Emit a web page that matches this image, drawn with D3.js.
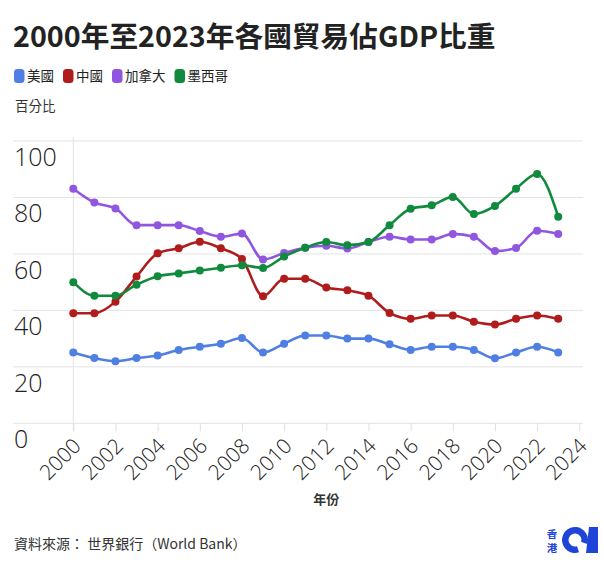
<!DOCTYPE html>
<html><head><meta charset="utf-8">
<script src="https://cdn.jsdelivr.net/npm/d3@7"></script>
<style>
body{margin:0;background:#fff;}
text{font-family:"Open Sans","Noto Sans CJK TC",sans-serif;}
.cjk{font-family:"Noto Sans CJK TC","Noto Sans",sans-serif;}
</style></head>
<body><svg id="c" width="604" height="566"></svg>
<script>
const years = d3.range(2000, 2024);
const seriesNames = ["美國","中國","加拿大","墨西哥"];
const colors = ["#4f7fe3","#b01c1c","#9056e0","#108a3c"];
const usa = [25.1,23.1,22.0,23.1,24.0,26.0,27.1,28.2,30.2,25.1,28.2,31.1,31.1,30.0,30.0,28.0,26.0,27.1,27.1,26.0,23.0,25.1,27.1,25.1];
const china = [39.0,39.0,43.1,52.0,60.2,62.0,64.3,62.0,58.2,45.0,51.2,51.2,48.1,47.1,45.2,39.1,37.0,38.2,38.2,36.0,35.0,37.0,38.2,37.0];
const canada = [83.1,78.2,76.1,70.2,70.2,70.2,68.1,66.1,67.2,58.0,60.3,62.2,62.9,61.9,64.2,66.1,65.1,65.1,67.1,66.1,61.0,62.1,68.2,67.1];
const mexico = [50.0,45.2,45.2,49.1,52.1,53.1,54.1,55.1,56.0,55.0,59.1,62.2,64.2,63.1,64.2,70.2,76.0,77.2,80.2,74.1,77.0,83.1,88.3,73.2];
const yTicks = [0,20,40,60,80,100];
const xTicks = d3.range(2000, 2025, 2);
const seriesValues = [usa, china, canada, mexico];

const svg = d3.select("#c");
const x = d3.scaleLinear().domain([2000, 2024]).range([73.3, 579.3]);
const y = d3.scaleLinear().domain([0, 100]).range([423.3, 141.0]);

// title
svg.append("text").attr("class","cjk").attr("x",13).attr("y",47)
  .attr("font-size",28.7).attr("font-weight",700).attr("fill","#222")
  .text("2000年至2023年各國貿易佔GDP比重");

// legend
const lg = svg.append("g").attr("class","legend");
let lx = 14;
seriesNames.forEach((n,i)=>{
  lg.append("rect").attr("x",lx).attr("y",69).attr("width",10.5).attr("height",14).attr("rx",3.5).attr("fill",colors[i]);
  const t = lg.append("text").attr("class","cjk").attr("x",lx+13).attr("y",81).attr("font-size",13.5).attr("fill","#222").text(n);
  lx += 13 + t.node().getComputedTextLength() + 9;
});

svg.append("text").attr("class","cjk").attr("x",15).attr("y",111).attr("font-size",13.5).attr("fill","#333").text("百分比");

// grid
const grid = svg.append("g");
yTicks.forEach(v=>{
  grid.append("line").attr("x1",13).attr("x2",583).attr("y1",y(v)).attr("y2",y(v)).attr("stroke","#e3e3e3").attr("stroke-width",1);
  grid.append("text").attr("x",14).attr("y",y(v)+25).attr("font-size",25).attr("font-weight",300).attr("fill","#222").text(v);
});
grid.append("line").attr("x1",x(2000)).attr("x2",x(2000)).attr("y1",137).attr("y2",y(0)+8).attr("stroke","#e3e3e3");

// x axis
const xa = svg.append("g").attr("transform",`translate(0,${y(0)})`)
  .call(d3.axisBottom(x).tickValues(xTicks).tickFormat(d3.format("d")).tickSize(8).tickPadding(0));
xa.select(".domain").remove();
xa.selectAll(".tick line").attr("stroke","#e0e0e0");
xa.selectAll(".tick text").attr("font-size",21).attr("font-weight",300).attr("fill","#222")
  .attr("font-family","'Open Sans',sans-serif")
  .attr("text-anchor","end").attr("dy",0).attr("y",0)
  .attr("transform","translate(8.5,24) rotate(-45)");

svg.append("text").attr("class","cjk").attr("x",(x(2000)+x(2024))/2).attr("y",504)
  .attr("text-anchor","middle").attr("font-size",13).attr("font-weight",700).attr("fill","#333").text("年份");

// lines
const line = d3.line().x((d,i)=>x(years[i])).y(d=>y(d)).curve(d3.curveMonotoneX);
seriesValues.forEach((vals,i)=>{
  const g = svg.append("g");
  g.append("path").attr("d",line(vals)).attr("fill","none").attr("stroke",colors[i]).attr("stroke-width",2.6).attr("stroke-linejoin","round");
  g.selectAll("circle").data(vals).join("circle")
    .attr("cx",(d,j)=>x(years[j])).attr("cy",d=>y(d)).attr("r",4).attr("fill",colors[i]);
});

// footer
svg.append("text").attr("class","cjk").attr("x",14).attr("y",549).attr("font-size",14).attr("fill","#333")
  .text("資料來源： 世界銀行（World Bank）");

// logo
const logo = svg.append("g");
logo.append("text").attr("class","cjk").attr("x",552).attr("y",538).attr("text-anchor","middle").attr("font-size",10.5).attr("font-weight",700).attr("fill","#1f45d8").text("香");
logo.append("text").attr("class","cjk").attr("x",552).attr("y",552).attr("text-anchor","middle").attr("font-size",10.5).attr("font-weight",700).attr("fill","#1f45d8").text("港");
const arc = d3.arc().innerRadius(6.5).outerRadius(13).startAngle(Math.PI*0.9).endAngle(Math.PI*2.6);
logo.append("path").attr("d",arc()).attr("transform","translate(575,540)").attr("fill","#1f45d8");
logo.append("path").attr("d","M589,527 L598,527 L598,553 L586,553 Z").attr("fill","#1f45d8");
</script></body></html>
